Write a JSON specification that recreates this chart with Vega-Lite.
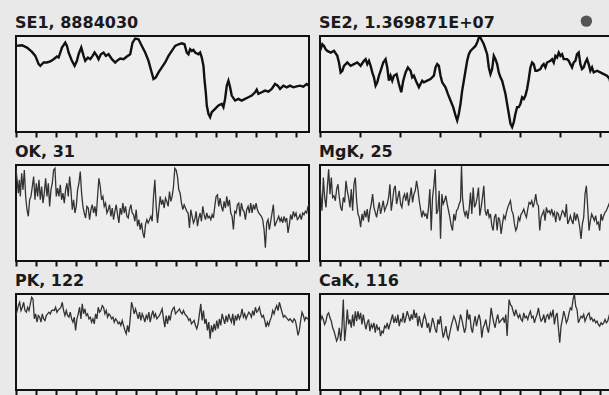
{
"$schema":"https://vega.github.io/schema/vega-lite/v6.json",
"padding":{"left":14,"top":14,"right":0,"bottom":0},
"background":"#e9e9e9",
"config":{
 "view":{"stroke":"#111111","strokeWidth":2,"fill":"#eeeeee"},
 "title":{"font":"DejaVu Sans","fontSize":16,"fontWeight":"bold","color":"#1a1a1a","anchor":"start","offset":5}
},
"datasets":{
"SE1":[{"x":0,"v":260},{"x":18,"v":262},{"x":33,"v":255},{"x":48,"v":242},{"x":58,"v":230},{"x":68,"v":205},{"x":73,"v":200},{"x":83,"v":210},{"x":93,"v":210},{"x":103,"v":213},{"x":113,"v":220},{"x":123,"v":228},{"x":128,"v":225},{"x":138,"v":255},{"x":148,"v":270},{"x":153,"v":260},{"x":158,"v":240},{"x":168,"v":215},{"x":176,"v":200},{"x":183,"v":215},{"x":188,"v":235},{"x":196,"v":255},{"x":203,"v":230},{"x":208,"v":215},{"x":216,"v":225},{"x":223,"v":220},{"x":230,"v":230},{"x":236,"v":240},{"x":243,"v":230},{"x":248,"v":220},{"x":255,"v":235},{"x":263,"v":240},{"x":270,"v":230},{"x":278,"v":235},{"x":288,"v":220},{"x":298,"v":210},{"x":303,"v":215},{"x":313,"v":222},{"x":323,"v":220},{"x":333,"v":228},{"x":343,"v":235},{"x":350,"v":270},{"x":358,"v":282},{"x":368,"v":280},{"x":378,"v":260},{"x":388,"v":240},{"x":398,"v":215},{"x":406,"v":185},{"x":413,"v":160},{"x":420,"v":165},{"x":428,"v":180},{"x":438,"v":195},{"x":448,"v":210},{"x":458,"v":230},{"x":468,"v":245},{"x":478,"v":260},{"x":488,"v":265},{"x":498,"v":268},{"x":506,"v":265},{"x":513,"v":240},{"x":518,"v":235},{"x":523,"v":250},{"x":528,"v":245},{"x":533,"v":248},{"x":538,"v":240},{"x":548,"v":235},{"x":553,"v":240},{"x":558,"v":225},{"x":563,"v":200},{"x":566,"v":160},{"x":570,"v":120},{"x":573,"v":80},{"x":578,"v":55},{"x":583,"v":45},{"x":588,"v":60},{"x":598,"v":70},{"x":608,"v":80},{"x":618,"v":85},{"x":623,"v":75},{"x":628,"v":100},{"x":633,"v":140},{"x":638,"v":155},{"x":643,"v":135},{"x":648,"v":110},{"x":658,"v":95},{"x":668,"v":100},{"x":678,"v":95},{"x":688,"v":100},{"x":698,"v":105},{"x":708,"v":110},{"x":718,"v":120},{"x":723,"v":128},{"x":728,"v":115},{"x":738,"v":120},{"x":748,"v":125},{"x":758,"v":122},{"x":768,"v":130},{"x":778,"v":145},{"x":786,"v":140},{"x":793,"v":130},{"x":803,"v":140},{"x":813,"v":135},{"x":823,"v":140},{"x":833,"v":135},{"x":843,"v":138},{"x":853,"v":140},{"x":863,"v":137},{"x":873,"v":145},{"x":880,"v":140}],
"SE2":[{"x":0,"v":245},{"x":7,"v":265},{"x":12,"v":260},{"x":17,"v":250},{"x":22,"v":245},{"x":32,"v":240},{"x":42,"v":245},{"x":52,"v":230},{"x":57,"v":210},{"x":62,"v":180},{"x":67,"v":185},{"x":72,"v":200},{"x":82,"v":210},{"x":92,"v":200},{"x":102,"v":205},{"x":112,"v":210},{"x":122,"v":200},{"x":132,"v":215},{"x":137,"v":220},{"x":142,"v":205},{"x":147,"v":215},{"x":152,"v":200},{"x":157,"v":180},{"x":162,"v":165},{"x":167,"v":140},{"x":172,"v":150},{"x":177,"v":170},{"x":182,"v":185},{"x":190,"v":210},{"x":197,"v":220},{"x":202,"v":195},{"x":207,"v":155},{"x":212,"v":170},{"x":217,"v":155},{"x":222,"v":170},{"x":230,"v":175},{"x":237,"v":145},{"x":244,"v":120},{"x":250,"v":155},{"x":257,"v":180},{"x":264,"v":195},{"x":272,"v":185},{"x":277,"v":165},{"x":282,"v":170},{"x":290,"v":150},{"x":297,"v":135},{"x":302,"v":145},{"x":307,"v":155},{"x":312,"v":150},{"x":322,"v":155},{"x":332,"v":160},{"x":342,"v":170},{"x":347,"v":195},{"x":352,"v":205},{"x":357,"v":200},{"x":362,"v":170},{"x":367,"v":150},{"x":377,"v":135},{"x":384,"v":115},{"x":392,"v":95},{"x":400,"v":75},{"x":407,"v":50},{"x":412,"v":35},{"x":417,"v":55},{"x":422,"v":85},{"x":427,"v":125},{"x":432,"v":155},{"x":437,"v":185},{"x":442,"v":215},{"x":447,"v":235},{"x":452,"v":245},{"x":457,"v":250},{"x":462,"v":255},{"x":467,"v":260},{"x":472,"v":270},{"x":477,"v":285},{"x":482,"v":285},{"x":487,"v":275},{"x":492,"v":265},{"x":497,"v":250},{"x":502,"v":235},{"x":507,"v":195},{"x":512,"v":175},{"x":517,"v":190},{"x":522,"v":230},{"x":527,"v":220},{"x":532,"v":205},{"x":537,"v":180},{"x":542,"v":165},{"x":547,"v":155},{"x":552,"v":135},{"x":557,"v":115},{"x":562,"v":85},{"x":567,"v":55},{"x":572,"v":25},{"x":577,"v":15},{"x":582,"v":30},{"x":587,"v":55},{"x":592,"v":75},{"x":597,"v":75},{"x":602,"v":85},{"x":607,"v":105},{"x":612,"v":100},{"x":617,"v":110},{"x":622,"v":130},{"x":627,"v":160},{"x":632,"v":195},{"x":637,"v":210},{"x":642,"v":205},{"x":647,"v":185},{"x":652,"v":185},{"x":662,"v":190},{"x":667,"v":200},{"x":672,"v":205},{"x":677,"v":195},{"x":682,"v":210},{"x":692,"v":215},{"x":697,"v":220},{"x":702,"v":210},{"x":707,"v":230},{"x":712,"v":225},{"x":717,"v":240},{"x":722,"v":230},{"x":727,"v":235},{"x":732,"v":220},{"x":742,"v":220},{"x":747,"v":215},{"x":752,"v":205},{"x":757,"v":195},{"x":762,"v":210},{"x":767,"v":215},{"x":772,"v":235},{"x":777,"v":240},{"x":782,"v":205},{"x":787,"v":190},{"x":792,"v":195},{"x":797,"v":210},{"x":802,"v":220},{"x":807,"v":205},{"x":812,"v":185},{"x":817,"v":195},{"x":822,"v":180},{"x":832,"v":185},{"x":842,"v":180},{"x":852,"v":175},{"x":862,"v":170},{"x":870,"v":160},{"x":874,"v":135},{"x":880,"v":125}],
"OK":[{"x":0,"v":280},{"x":7,"v":205},{"x":10,"v":245},{"x":13,"v":195},{"x":17,"v":265},{"x":21,"v":215},{"x":25,"v":275},{"x":29,"v":195},{"x":33,"v":155},{"x":37,"v":135},{"x":41,"v":185},{"x":45,"v":195},{"x":49,"v":225},{"x":53,"v":255},{"x":57,"v":185},{"x":61,"v":235},{"x":65,"v":195},{"x":69,"v":245},{"x":73,"v":185},{"x":77,"v":225},{"x":81,"v":175},{"x":85,"v":205},{"x":89,"v":250},{"x":93,"v":195},{"x":97,"v":235},{"x":101,"v":165},{"x":105,"v":215},{"x":109,"v":235},{"x":113,"v":275},{"x":117,"v":280},{"x":121,"v":195},{"x":125,"v":220},{"x":129,"v":195},{"x":133,"v":230},{"x":137,"v":185},{"x":141,"v":205},{"x":145,"v":175},{"x":149,"v":215},{"x":153,"v":235},{"x":157,"v":195},{"x":161,"v":255},{"x":165,"v":215},{"x":169,"v":155},{"x":173,"v":185},{"x":177,"v":145},{"x":181,"v":165},{"x":185,"v":215},{"x":189,"v":235},{"x":193,"v":270},{"x":197,"v":205},{"x":201,"v":165},{"x":205,"v":145},{"x":209,"v":130},{"x":213,"v":165},{"x":217,"v":160},{"x":221,"v":125},{"x":225,"v":155},{"x":229,"v":170},{"x":233,"v":145},{"x":237,"v":165},{"x":241,"v":135},{"x":245,"v":195},{"x":249,"v":250},{"x":253,"v":225},{"x":257,"v":185},{"x":261,"v":195},{"x":265,"v":165},{"x":269,"v":175},{"x":273,"v":145},{"x":277,"v":155},{"x":281,"v":170},{"x":285,"v":135},{"x":289,"v":160},{"x":293,"v":125},{"x":297,"v":150},{"x":301,"v":170},{"x":305,"v":140},{"x":309,"v":115},{"x":313,"v":160},{"x":317,"v":140},{"x":321,"v":175},{"x":325,"v":145},{"x":329,"v":165},{"x":333,"v":135},{"x":337,"v":130},{"x":341,"v":155},{"x":345,"v":170},{"x":349,"v":145},{"x":353,"v":140},{"x":357,"v":120},{"x":361,"v":155},{"x":365,"v":105},{"x":369,"v":125},{"x":373,"v":95},{"x":377,"v":115},{"x":381,"v":85},{"x":385,"v":70},{"x":389,"v":110},{"x":393,"v":125},{"x":397,"v":115},{"x":401,"v":125},{"x":405,"v":135},{"x":409,"v":120},{"x":413,"v":195},{"x":417,"v":245},{"x":421,"v":165},{"x":425,"v":115},{"x":429,"v":155},{"x":433,"v":195},{"x":437,"v":170},{"x":441,"v":185},{"x":445,"v":160},{"x":449,"v":190},{"x":453,"v":180},{"x":457,"v":165},{"x":461,"v":210},{"x":465,"v":180},{"x":469,"v":195},{"x":473,"v":225},{"x":477,"v":280},{"x":481,"v":275},{"x":485,"v":255},{"x":489,"v":215},{"x":493,"v":205},{"x":497,"v":175},{"x":501,"v":155},{"x":505,"v":170},{"x":509,"v":160},{"x":513,"v":150},{"x":517,"v":145},{"x":521,"v":100},{"x":525,"v":155},{"x":529,"v":135},{"x":533,"v":115},{"x":537,"v":125},{"x":541,"v":150},{"x":545,"v":105},{"x":549,"v":130},{"x":553,"v":145},{"x":557,"v":120},{"x":561,"v":165},{"x":565,"v":140},{"x":569,"v":125},{"x":573,"v":145},{"x":577,"v":130},{"x":581,"v":135},{"x":585,"v":125},{"x":589,"v":140},{"x":593,"v":130},{"x":597,"v":165},{"x":601,"v":195},{"x":605,"v":200},{"x":609,"v":165},{"x":613,"v":190},{"x":617,"v":165},{"x":621,"v":150},{"x":625,"v":180},{"x":629,"v":160},{"x":633,"v":195},{"x":637,"v":165},{"x":641,"v":185},{"x":645,"v":145},{"x":649,"v":135},{"x":653,"v":95},{"x":657,"v":150},{"x":661,"v":145},{"x":665,"v":170},{"x":669,"v":175},{"x":673,"v":135},{"x":677,"v":175},{"x":681,"v":155},{"x":685,"v":150},{"x":689,"v":125},{"x":693,"v":155},{"x":697,"v":165},{"x":701,"v":145},{"x":705,"v":175},{"x":709,"v":145},{"x":713,"v":170},{"x":717,"v":155},{"x":721,"v":175},{"x":725,"v":155},{"x":729,"v":145},{"x":733,"v":140},{"x":737,"v":135},{"x":741,"v":125},{"x":745,"v":95},{"x":749,"v":40},{"x":753,"v":115},{"x":757,"v":125},{"x":761,"v":95},{"x":765,"v":120},{"x":769,"v":145},{"x":773,"v":170},{"x":777,"v":105},{"x":781,"v":115},{"x":785,"v":125},{"x":789,"v":135},{"x":793,"v":120},{"x":797,"v":130},{"x":801,"v":115},{"x":805,"v":135},{"x":809,"v":120},{"x":813,"v":130},{"x":817,"v":85},{"x":821,"v":110},{"x":825,"v":140},{"x":829,"v":125},{"x":833,"v":150},{"x":837,"v":135},{"x":841,"v":145},{"x":845,"v":125},{"x":849,"v":130},{"x":853,"v":140},{"x":857,"v":125},{"x":861,"v":145},{"x":865,"v":140},{"x":869,"v":150},{"x":873,"v":145},{"x":877,"v":165},{"x":880,"v":170}],
"MgK":[{"x":0,"v":232},{"x":6,"v":152},{"x":10,"v":252},{"x":14,"v":192},{"x":18,"v":162},{"x":22,"v":222},{"x":26,"v":277},{"x":30,"v":202},{"x":34,"v":252},{"x":38,"v":192},{"x":42,"v":197},{"x":46,"v":182},{"x":50,"v":217},{"x":54,"v":232},{"x":58,"v":192},{"x":62,"v":162},{"x":66,"v":152},{"x":70,"v":192},{"x":74,"v":177},{"x":78,"v":242},{"x":82,"v":212},{"x":86,"v":192},{"x":90,"v":162},{"x":94,"v":217},{"x":98,"v":152},{"x":102,"v":232},{"x":106,"v":252},{"x":110,"v":182},{"x":114,"v":142},{"x":118,"v":132},{"x":122,"v":102},{"x":126,"v":142},{"x":130,"v":122},{"x":134,"v":152},{"x":138,"v":132},{"x":142,"v":157},{"x":146,"v":117},{"x":150,"v":152},{"x":154,"v":172},{"x":158,"v":202},{"x":162,"v":162},{"x":166,"v":147},{"x":170,"v":132},{"x":174,"v":157},{"x":178,"v":177},{"x":182,"v":142},{"x":186,"v":162},{"x":190,"v":182},{"x":194,"v":152},{"x":198,"v":162},{"x":202,"v":172},{"x":206,"v":192},{"x":210,"v":232},{"x":214,"v":152},{"x":218,"v":182},{"x":222,"v":217},{"x":226,"v":227},{"x":230,"v":172},{"x":234,"v":192},{"x":238,"v":212},{"x":242,"v":172},{"x":246,"v":162},{"x":250,"v":192},{"x":254,"v":202},{"x":258,"v":182},{"x":262,"v":207},{"x":266,"v":167},{"x":270,"v":192},{"x":274,"v":222},{"x":278,"v":177},{"x":282,"v":202},{"x":286,"v":212},{"x":290,"v":242},{"x":294,"v":217},{"x":298,"v":182},{"x":302,"v":157},{"x":306,"v":132},{"x":310,"v":152},{"x":314,"v":137},{"x":318,"v":142},{"x":322,"v":127},{"x":326,"v":162},{"x":330,"v":217},{"x":334,"v":92},{"x":338,"v":192},{"x":342,"v":227},{"x":346,"v":277},{"x":350,"v":142},{"x":354,"v":152},{"x":358,"v":212},{"x":362,"v":67},{"x":366,"v":202},{"x":370,"v":172},{"x":374,"v":182},{"x":378,"v":197},{"x":382,"v":172},{"x":386,"v":152},{"x":390,"v":132},{"x":394,"v":107},{"x":398,"v":92},{"x":402,"v":142},{"x":406,"v":122},{"x":410,"v":152},{"x":414,"v":157},{"x":418,"v":172},{"x":422,"v":182},{"x":425,"v":287},{"x":428,"v":192},{"x":432,"v":152},{"x":436,"v":137},{"x":440,"v":152},{"x":444,"v":127},{"x":448,"v":157},{"x":452,"v":207},{"x":456,"v":142},{"x":460,"v":222},{"x":464,"v":162},{"x":468,"v":172},{"x":472,"v":192},{"x":476,"v":222},{"x":480,"v":137},{"x":484,"v":162},{"x":488,"v":192},{"x":492,"v":227},{"x":496,"v":152},{"x":500,"v":137},{"x":504,"v":157},{"x":508,"v":132},{"x":512,"v":142},{"x":516,"v":107},{"x":520,"v":92},{"x":524,"v":132},{"x":528,"v":142},{"x":532,"v":92},{"x":536,"v":132},{"x":540,"v":122},{"x":544,"v":82},{"x":548,"v":112},{"x":552,"v":137},{"x":556,"v":127},{"x":560,"v":147},{"x":564,"v":162},{"x":568,"v":172},{"x":572,"v":182},{"x":576,"v":152},{"x":580,"v":142},{"x":584,"v":112},{"x":588,"v":92},{"x":592,"v":102},{"x":596,"v":132},{"x":600,"v":122},{"x":604,"v":142},{"x":608,"v":147},{"x":612,"v":157},{"x":616,"v":142},{"x":620,"v":132},{"x":624,"v":157},{"x":628,"v":177},{"x":632,"v":172},{"x":636,"v":182},{"x":640,"v":162},{"x":644,"v":177},{"x":648,"v":202},{"x":652,"v":172},{"x":656,"v":167},{"x":660,"v":92},{"x":664,"v":132},{"x":668,"v":142},{"x":672,"v":152},{"x":676,"v":122},{"x":680,"v":162},{"x":684,"v":147},{"x":688,"v":152},{"x":692,"v":142},{"x":696,"v":157},{"x":700,"v":137},{"x":704,"v":147},{"x":708,"v":117},{"x":712,"v":147},{"x":716,"v":142},{"x":720,"v":122},{"x":724,"v":137},{"x":728,"v":152},{"x":732,"v":147},{"x":736,"v":132},{"x":740,"v":172},{"x":744,"v":112},{"x":748,"v":122},{"x":752,"v":137},{"x":756,"v":122},{"x":760,"v":112},{"x":764,"v":147},{"x":768,"v":122},{"x":772,"v":142},{"x":776,"v":127},{"x":780,"v":102},{"x":784,"v":67},{"x":788,"v":112},{"x":792,"v":132},{"x":796,"v":202},{"x":800,"v":227},{"x":804,"v":162},{"x":808,"v":92},{"x":812,"v":122},{"x":816,"v":142},{"x":820,"v":132},{"x":824,"v":122},{"x":828,"v":137},{"x":832,"v":112},{"x":836,"v":117},{"x":840,"v":92},{"x":844,"v":142},{"x":848,"v":122},{"x":852,"v":137},{"x":856,"v":147},{"x":860,"v":152},{"x":864,"v":162},{"x":868,"v":172},{"x":872,"v":157},{"x":880,"v":162}],
"PK":[{"x":0,"v":225},{"x":7,"v":255},{"x":11,"v":265},{"x":15,"v":240},{"x":19,"v":250},{"x":23,"v":265},{"x":27,"v":240},{"x":31,"v":235},{"x":35,"v":250},{"x":39,"v":240},{"x":43,"v":260},{"x":47,"v":280},{"x":51,"v":275},{"x":55,"v":215},{"x":59,"v":230},{"x":63,"v":205},{"x":67,"v":225},{"x":71,"v":220},{"x":75,"v":205},{"x":79,"v":230},{"x":83,"v":215},{"x":87,"v":210},{"x":91,"v":225},{"x":95,"v":230},{"x":99,"v":235},{"x":103,"v":230},{"x":107,"v":240},{"x":111,"v":242},{"x":115,"v":240},{"x":119,"v":250},{"x":123,"v":235},{"x":127,"v":242},{"x":131,"v":245},{"x":135,"v":250},{"x":139,"v":265},{"x":143,"v":240},{"x":147,"v":225},{"x":151,"v":240},{"x":155,"v":225},{"x":159,"v":220},{"x":163,"v":235},{"x":167,"v":215},{"x":171,"v":205},{"x":175,"v":220},{"x":179,"v":180},{"x":183,"v":215},{"x":187,"v":230},{"x":191,"v":250},{"x":195,"v":215},{"x":199,"v":260},{"x":203,"v":230},{"x":207,"v":245},{"x":211,"v":225},{"x":215,"v":230},{"x":219,"v":215},{"x":223,"v":220},{"x":227,"v":205},{"x":231,"v":215},{"x":235,"v":200},{"x":239,"v":230},{"x":243,"v":215},{"x":247,"v":250},{"x":251,"v":235},{"x":255,"v":240},{"x":259,"v":255},{"x":263,"v":250},{"x":267,"v":230},{"x":271,"v":240},{"x":275,"v":220},{"x":279,"v":230},{"x":283,"v":225},{"x":287,"v":215},{"x":291,"v":220},{"x":295,"v":205},{"x":299,"v":215},{"x":303,"v":210},{"x":307,"v":200},{"x":311,"v":205},{"x":315,"v":195},{"x":319,"v":210},{"x":323,"v":195},{"x":327,"v":180},{"x":331,"v":170},{"x":335,"v":195},{"x":339,"v":175},{"x":343,"v":215},{"x":347,"v":265},{"x":351,"v":250},{"x":355,"v":230},{"x":359,"v":245},{"x":363,"v":230},{"x":367,"v":215},{"x":371,"v":235},{"x":375,"v":210},{"x":379,"v":230},{"x":383,"v":220},{"x":387,"v":205},{"x":391,"v":225},{"x":395,"v":215},{"x":399,"v":235},{"x":403,"v":205},{"x":407,"v":225},{"x":411,"v":240},{"x":415,"v":220},{"x":419,"v":230},{"x":423,"v":215},{"x":427,"v":220},{"x":431,"v":225},{"x":435,"v":235},{"x":439,"v":245},{"x":443,"v":215},{"x":447,"v":190},{"x":451,"v":225},{"x":455,"v":200},{"x":459,"v":225},{"x":463,"v":210},{"x":467,"v":235},{"x":471,"v":245},{"x":475,"v":250},{"x":479,"v":230},{"x":483,"v":235},{"x":487,"v":240},{"x":491,"v":245},{"x":495,"v":235},{"x":499,"v":230},{"x":503,"v":240},{"x":507,"v":230},{"x":511,"v":225},{"x":515,"v":220},{"x":519,"v":210},{"x":523,"v":215},{"x":527,"v":200},{"x":531,"v":205},{"x":535,"v":210},{"x":539,"v":195},{"x":543,"v":185},{"x":547,"v":200},{"x":551,"v":230},{"x":555,"v":260},{"x":559,"v":210},{"x":563,"v":240},{"x":567,"v":200},{"x":571,"v":215},{"x":575,"v":180},{"x":579,"v":205},{"x":583,"v":155},{"x":587,"v":195},{"x":591,"v":175},{"x":595,"v":200},{"x":599,"v":180},{"x":603,"v":210},{"x":607,"v":185},{"x":611,"v":215},{"x":615,"v":195},{"x":619,"v":230},{"x":623,"v":215},{"x":627,"v":200},{"x":631,"v":225},{"x":635,"v":205},{"x":639,"v":230},{"x":643,"v":215},{"x":647,"v":205},{"x":651,"v":230},{"x":655,"v":195},{"x":659,"v":225},{"x":663,"v":210},{"x":667,"v":230},{"x":671,"v":215},{"x":675,"v":225},{"x":679,"v":245},{"x":683,"v":220},{"x":687,"v":230},{"x":691,"v":215},{"x":695,"v":225},{"x":699,"v":235},{"x":703,"v":230},{"x":707,"v":220},{"x":711,"v":240},{"x":715,"v":225},{"x":719,"v":250},{"x":723,"v":235},{"x":727,"v":240},{"x":731,"v":250},{"x":735,"v":230},{"x":739,"v":220},{"x":743,"v":225},{"x":747,"v":210},{"x":751,"v":190},{"x":755,"v":205},{"x":759,"v":195},{"x":763,"v":210},{"x":767,"v":220},{"x":771,"v":240},{"x":775,"v":230},{"x":779,"v":245},{"x":783,"v":255},{"x":787,"v":240},{"x":791,"v":265},{"x":795,"v":250},{"x":799,"v":235},{"x":803,"v":220},{"x":807,"v":225},{"x":811,"v":220},{"x":815,"v":215},{"x":819,"v":210},{"x":823,"v":215},{"x":827,"v":210},{"x":831,"v":205},{"x":835,"v":215},{"x":839,"v":210},{"x":843,"v":190},{"x":847,"v":165},{"x":851,"v":180},{"x":855,"v":210},{"x":859,"v":235},{"x":863,"v":225},{"x":867,"v":210},{"x":871,"v":220},{"x":875,"v":215},{"x":880,"v":220}],
"CaK":[{"x":0,"v":203},{"x":6,"v":223},{"x":10,"v":213},{"x":14,"v":198},{"x":18,"v":208},{"x":22,"v":228},{"x":26,"v":233},{"x":30,"v":218},{"x":34,"v":208},{"x":38,"v":188},{"x":42,"v":178},{"x":46,"v":163},{"x":50,"v":148},{"x":54,"v":158},{"x":58,"v":188},{"x":62,"v":148},{"x":66,"v":188},{"x":70,"v":273},{"x":74,"v":148},{"x":78,"v":188},{"x":82,"v":243},{"x":86,"v":198},{"x":90,"v":213},{"x":94,"v":188},{"x":98,"v":228},{"x":102,"v":193},{"x":106,"v":238},{"x":110,"v":208},{"x":114,"v":238},{"x":118,"v":213},{"x":122,"v":233},{"x":126,"v":198},{"x":130,"v":228},{"x":134,"v":203},{"x":138,"v":183},{"x":142,"v":203},{"x":146,"v":213},{"x":150,"v":178},{"x":154,"v":198},{"x":158,"v":188},{"x":162,"v":203},{"x":166,"v":173},{"x":170,"v":198},{"x":174,"v":183},{"x":178,"v":188},{"x":182,"v":163},{"x":186,"v":178},{"x":190,"v":173},{"x":194,"v":193},{"x":198,"v":188},{"x":202,"v":203},{"x":206,"v":183},{"x":210,"v":198},{"x":214,"v":213},{"x":218,"v":228},{"x":222,"v":203},{"x":226,"v":218},{"x":230,"v":203},{"x":234,"v":228},{"x":238,"v":193},{"x":242,"v":213},{"x":246,"v":208},{"x":250,"v":233},{"x":254,"v":203},{"x":258,"v":218},{"x":262,"v":238},{"x":266,"v":223},{"x":270,"v":208},{"x":274,"v":228},{"x":278,"v":213},{"x":282,"v":243},{"x":286,"v":218},{"x":290,"v":233},{"x":294,"v":193},{"x":298,"v":223},{"x":302,"v":203},{"x":306,"v":188},{"x":310,"v":213},{"x":314,"v":228},{"x":318,"v":213},{"x":322,"v":188},{"x":326,"v":203},{"x":330,"v":173},{"x":334,"v":193},{"x":338,"v":218},{"x":342,"v":203},{"x":346,"v":183},{"x":350,"v":173},{"x":354,"v":213},{"x":358,"v":198},{"x":362,"v":223},{"x":366,"v":188},{"x":370,"v":158},{"x":374,"v":173},{"x":378,"v":193},{"x":382,"v":163},{"x":386,"v":153},{"x":390,"v":173},{"x":394,"v":193},{"x":398,"v":208},{"x":402,"v":223},{"x":406,"v":213},{"x":410,"v":198},{"x":414,"v":178},{"x":418,"v":203},{"x":422,"v":228},{"x":426,"v":213},{"x":430,"v":193},{"x":434,"v":173},{"x":438,"v":188},{"x":442,"v":243},{"x":446,"v":213},{"x":450,"v":228},{"x":454,"v":188},{"x":458,"v":173},{"x":462,"v":203},{"x":466,"v":223},{"x":470,"v":193},{"x":474,"v":213},{"x":478,"v":228},{"x":482,"v":208},{"x":486,"v":158},{"x":490,"v":188},{"x":494,"v":198},{"x":498,"v":213},{"x":502,"v":188},{"x":506,"v":173},{"x":510,"v":203},{"x":514,"v":248},{"x":518,"v":223},{"x":522,"v":203},{"x":526,"v":188},{"x":530,"v":213},{"x":534,"v":228},{"x":538,"v":203},{"x":542,"v":208},{"x":546,"v":213},{"x":550,"v":218},{"x":554,"v":203},{"x":558,"v":228},{"x":562,"v":163},{"x":566,"v":238},{"x":568,"v":273},{"x":572,"v":258},{"x":576,"v":253},{"x":580,"v":238},{"x":584,"v":223},{"x":588,"v":243},{"x":592,"v":228},{"x":596,"v":218},{"x":600,"v":228},{"x":604,"v":213},{"x":608,"v":208},{"x":612,"v":233},{"x":616,"v":218},{"x":620,"v":223},{"x":624,"v":213},{"x":628,"v":228},{"x":632,"v":238},{"x":636,"v":218},{"x":640,"v":223},{"x":644,"v":203},{"x":648,"v":218},{"x":652,"v":228},{"x":656,"v":248},{"x":660,"v":223},{"x":664,"v":208},{"x":668,"v":213},{"x":672,"v":228},{"x":676,"v":203},{"x":680,"v":223},{"x":684,"v":228},{"x":688,"v":213},{"x":692,"v":233},{"x":696,"v":223},{"x":700,"v":243},{"x":704,"v":198},{"x":708,"v":223},{"x":712,"v":233},{"x":716,"v":188},{"x":720,"v":143},{"x":724,"v":193},{"x":728,"v":213},{"x":732,"v":238},{"x":736,"v":223},{"x":740,"v":203},{"x":744,"v":213},{"x":748,"v":233},{"x":752,"v":248},{"x":756,"v":243},{"x":760,"v":273},{"x":764,"v":290},{"x":768,"v":253},{"x":772,"v":243},{"x":776,"v":203},{"x":780,"v":213},{"x":784,"v":223},{"x":788,"v":218},{"x":792,"v":228},{"x":796,"v":208},{"x":800,"v":218},{"x":804,"v":228},{"x":808,"v":233},{"x":812,"v":213},{"x":816,"v":218},{"x":820,"v":208},{"x":824,"v":213},{"x":828,"v":203},{"x":832,"v":208},{"x":836,"v":198},{"x":840,"v":193},{"x":844,"v":203},{"x":848,"v":198},{"x":852,"v":203},{"x":856,"v":213},{"x":860,"v":203},{"x":864,"v":208},{"x":868,"v":223},{"x":872,"v":238},{"x":880,"v":248}],
"marker":[{"x":800,"v":335}]
},
"vconcat":[
 {"hconcat":[
  {"title":"SE1, 8884030","width":293,"height":96,"data":{"name":"SE1"},
   "mark":{"type":"line","color":"#111111","strokeWidth":2.4,"clip":true},
   "encoding":{"x":{"field":"x","type":"quantitative","scale":{"domain":[0,880],"nice":false,"zero":false},"axis":{"values":[0,60,120,180,240,300,360,420,480,540,600,660,720,780,840],"labels":false,"domain":false,"grid":false,"tickSize":5,"tickWidth":2,"tickColor":"#111111","title":null}},
    "y":{"field":"v","type":"quantitative","scale":{"domain":[0,290],"nice":false},"axis":null}}},
  {"title":{"text":"SE2, 1.369871E+07","offset":-16},"width":293,"height":96,
   "layer":[
    {"data":{"name":"SE2"},
     "mark":{"type":"line","color":"#111111","strokeWidth":2.4,"clip":true},
     "encoding":{"x":{"field":"x","type":"quantitative","scale":{"domain":[0,880],"nice":false,"zero":false},"axis":{"values":[0,60,120,180,240,300,360,420,480,540,600,660,720,780,840],"labels":false,"domain":false,"grid":false,"tickSize":5,"tickWidth":2,"tickColor":"#111111","title":null}},
      "y":{"field":"v","type":"quantitative","scale":{"domain":[0,290],"nice":false},"axis":null}}},
    {"data":{"name":"marker"},
     "mark":{"type":"point","filled":true,"size":130,"color":"#555555","opacity":1,"clip":false},
     "encoding":{"x":{"field":"x","type":"quantitative"},"y":{"field":"v","type":"quantitative"}}}
   ]}
 ],"spacing":8},
 {"hconcat":[
  {"title":"OK, 31","width":293,"height":96,"data":{"name":"OK"},
   "mark":{"type":"line","color":"#333333","strokeWidth":1.3,"clip":true},
   "encoding":{"x":{"field":"x","type":"quantitative","scale":{"domain":[0,880],"nice":false,"zero":false},"axis":{"values":[0,60,120,180,240,300,360,420,480,540,600,660,720,780,840],"labels":false,"domain":false,"grid":false,"tickSize":5,"tickWidth":2,"tickColor":"#111111","title":null}},
    "y":{"field":"v","type":"quantitative","scale":{"domain":[0,290],"nice":false},"axis":null}}},
  {"title":"MgK, 25","width":293,"height":96,"data":{"name":"MgK"},
   "mark":{"type":"line","color":"#333333","strokeWidth":1.3,"clip":true},
   "encoding":{"x":{"field":"x","type":"quantitative","scale":{"domain":[0,880],"nice":false,"zero":false},"axis":{"values":[0,60,120,180,240,300,360,420,480,540,600,660,720,780,840],"labels":false,"domain":false,"grid":false,"tickSize":5,"tickWidth":2,"tickColor":"#111111","title":null}},
    "y":{"field":"v","type":"quantitative","scale":{"domain":[0,290],"nice":false},"axis":null}}}
 ],"spacing":8},
 {"hconcat":[
  {"title":"PK, 122","width":293,"height":96,"data":{"name":"PK"},
   "mark":{"type":"line","color":"#333333","strokeWidth":1.3,"clip":true},
   "encoding":{"x":{"field":"x","type":"quantitative","scale":{"domain":[0,880],"nice":false,"zero":false},"axis":{"values":[0,60,120,180,240,300,360,420,480,540,600,660,720,780,840],"labels":false,"domain":false,"grid":false,"tickSize":5,"tickWidth":2,"tickColor":"#111111","title":null}},
    "y":{"field":"v","type":"quantitative","scale":{"domain":[0,290],"nice":false},"axis":null}}},
  {"title":"CaK, 116","width":293,"height":96,"data":{"name":"CaK"},
   "mark":{"type":"line","color":"#333333","strokeWidth":1.3,"clip":true},
   "encoding":{"x":{"field":"x","type":"quantitative","scale":{"domain":[0,880],"nice":false,"zero":false},"axis":{"values":[0,60,120,180,240,300,360,420,480,540,600,660,720,780,840],"labels":false,"domain":false,"grid":false,"tickSize":5,"tickWidth":2,"tickColor":"#111111","title":null}},
    "y":{"field":"v","type":"quantitative","scale":{"domain":[0,290],"nice":false},"axis":null}}}
 ],"spacing":8}
],
"spacing":4
}
